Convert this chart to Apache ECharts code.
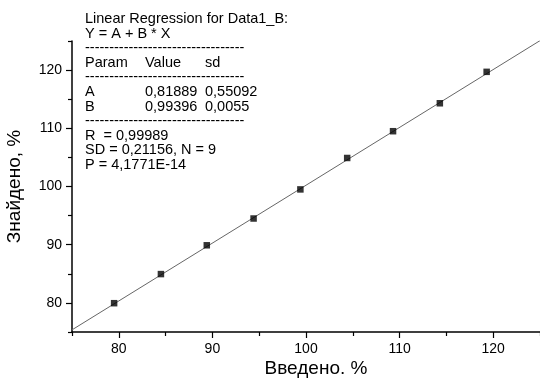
<!DOCTYPE html>
<html>
<head>
<meta charset="utf-8">
<script src="https://cdn.jsdelivr.net/npm/echarts@6/dist/echarts.min.js"></script>
<style>html,body{margin:0;padding:0;background:#fff}#c{width:540px;height:380px}</style>
</head>
<body>
<div id="c"></div>
<script>
var xValues = [79.5, 84.5, 89.4, 94.4, 99.4, 104.4, 109.3, 114.3, 119.3];
var yValues = [79.95, 84.95, 89.9, 94.5, 99.5, 104.9, 109.5, 114.3, 119.7];
var fitA = 0.81889;
var fitB = 0.99396;
var majorTicks = [80, 90, 100, 110, 120];
var minorTicks = [75, 85, 95, 105, 115, 125];
var xName = 'Введено. %';
var yName = 'Знайдено, %';
var headerLines = ['Linear Regression for Data1_B:', 'Y = A + B * X'];
var tableHeader = ['Param', 'Value', 'sd'];
var tableRows = [['A', '0,81889', '0,55092'], ['B', '0,99396', '0,0055']];
var statLines = ['R  = 0,99989', 'SD = 0,21156, N = 9', 'P = 4,1771E-14'];
var dashes = '---------------------------------';

var FONT = 'Arial, "Liberation Sans", sans-serif';
var chart = echarts.init(document.getElementById('c'), null, {renderer: 'canvas'});

var pts = xValues.map(function (x, i) { return [x, yValues[i]]; });
var fitLine = [[75, fitA + fitB * 75], [125, fitA + fitB * 125]];

var g = [];
var LH = 14.6, Y0 = 19, X0 = 85, colX = [85, 145, 205];
function txt(s, x, y) {
  g.push({type: 'text', x: x, y: y, style: {text: s, font: '14.5px ' + FONT, fill: '#000', textAlign: 'left', textVerticalAlign: 'middle'}});
}
var row = 0;
headerLines.forEach(function (s) { txt(s, X0, Y0 + LH * row++); });
txt(dashes, X0, Y0 + LH * row++);
tableHeader.forEach(function (s, j) { txt(s, colX[j], Y0 + LH * row); }); row++;
txt(dashes, X0, Y0 + LH * row++);
tableRows.forEach(function (r) { r.forEach(function (s, j) { txt(s, colX[j], Y0 + LH * row); }); row++; });
txt(dashes, X0, Y0 + LH * row++);
statLines.forEach(function (s) { txt(s, X0, Y0 + LH * row++); });

g.push({type: 'text', x: 316, y: 369, style: {text: xName, font: '19px ' + FONT, fill: '#000', textAlign: 'center', textVerticalAlign: 'middle'}});
g.push({type: 'text', x: 15, y: 186.5, rotation: Math.PI / 2, style: {text: yName, font: '19px ' + FONT, fill: '#000', textAlign: 'center', textVerticalAlign: 'middle'}});

var axisCommon = {
  type: 'value', min: 75, max: 125,
  splitLine: {show: false}
};
function majorAxis(pos) {
  return Object.assign({}, axisCommon, {
    position: pos,
    axisLine: {show: true, onZero: false, lineStyle: {color: '#000', width: 1.5}},
    axisTick: {show: true, inside: false, length: 6, customValues: majorTicks, lineStyle: {color: '#000', width: 1.2}},
    axisLabel: {show: true, customValues: majorTicks, margin: 10, fontSize: 14, color: '#000', fontFamily: FONT},
    minorTick: {show: false}
  });
}
function minorAxis(pos) {
  return Object.assign({}, axisCommon, {
    position: pos,
    axisLine: {show: false, onZero: false},
    axisTick: {show: true, inside: false, length: 4, customValues: minorTicks, lineStyle: {color: '#000', width: 1.2}},
    axisLabel: {show: false}
  });
}

chart.setOption({
  animation: false,
  backgroundColor: '#fff',
  grid: {left: 72, right: 0, top: 41, bottom: 48, containLabel: false},
  xAxis: [majorAxis('bottom'), minorAxis('bottom')],
  yAxis: [majorAxis('left'), minorAxis('left')],
  graphic: g,
  series: [
    {type: 'line', data: fitLine, xAxisIndex: 0, yAxisIndex: 0, showSymbol: false, symbol: 'none', clip: true,
     lineStyle: {color: '#666', width: 1}, z: 2},
    {type: 'scatter', data: pts, xAxisIndex: 0, yAxisIndex: 0, symbol: 'rect', symbolSize: 6.5,
     itemStyle: {color: '#000'}, z: 3}
  ]
});
</script>
</body>
</html>
